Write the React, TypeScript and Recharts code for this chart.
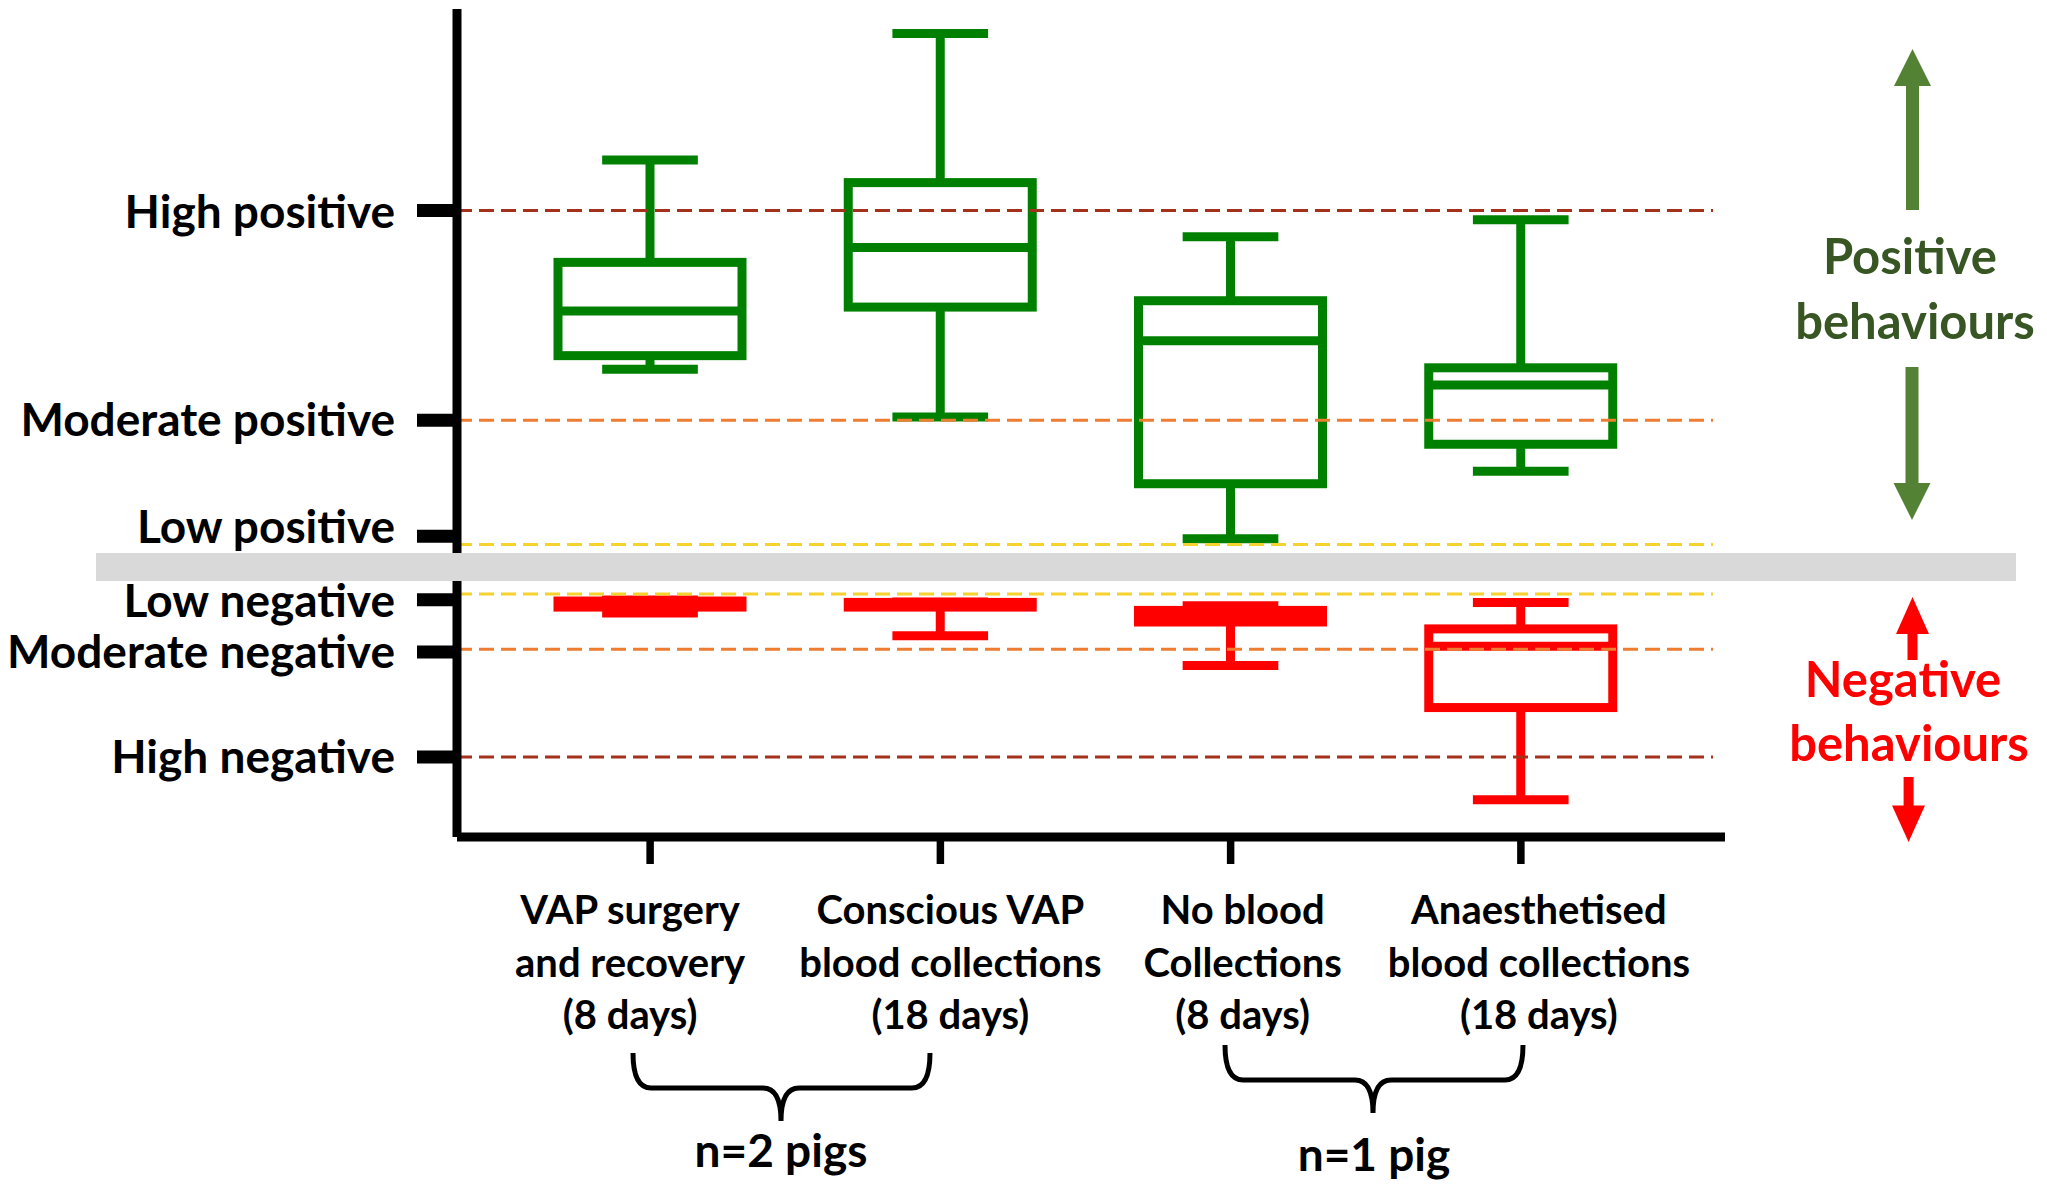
import React from 'react';
import { ComposedChart, Bar, XAxis, YAxis, ReferenceLine } from 'recharts';

document.body.style.margin = '0';

// category labels, one entry per line of text under each tick
const categories = ['VAP surgery', 'Conscious VAP', 'No blood', 'Anaesthetised'];
const categoryLines = [
  ['VAP surgery', 'and recovery', '(8 days)'],
  ['Conscious VAP', 'blood collections', '(18 days)'],
  ['No blood', 'Collections', '(8 days)'],
  ['Anaesthetised', 'blood collections', '(18 days)'],
];

// positive behaviour scores (green boxes)
const posMax = [145.3, 191.1, 117.5, 123.6];
const posQ3 = [108.2, 137.1, 94.3, 70.0];
const posMedian = [90.6, 113.6, 79.8, 63.8];
const posQ1 = [74.4, 92.0, 28.0, 42.3];
const posMin = [69.5, 52.2, 8.1, 32.5];

// negative behaviour scores (red boxes)
const negMax = [-14.1, -14.9, -16.2, -15.0];
const negQ3 = [-14.5, -15.0, -17.9, -24.6];
const negMedian = [-15.6, -15.6, -19.6, -30.9];
const negQ1 = [-16.7, -16.7, -22.1, -53.1];
const negMin = [-18.8, -27.1, -37.9, -86.5];

// y axis levels
const levelLabels = ['High positive', 'Moderate positive', 'Low positive', 'Low negative', 'Moderate negative', 'High negative'];
const levelTicks = [127, 51, 9, -14, -33, -71];
const levelLines = [127, 51, 6, -12, -32, -71];

const lineColors = ['#a3311c', '#ed7d31', '#f5d22e', '#f5d22e', '#ed7d31', '#a3311c'];
const labelShift = [-20, 10, 12, 18];
const levelLabelDy = [18, 16, 7, 17, 16, 16];

const FONT = 'Lato, "Open Sans", sans-serif';

const data = categories.map((name, i) => ({
  name,
  posMax: posMax[i], posQ3: posQ3[i], posMedian: posMedian[i], posQ1: posQ1[i], posMin: posMin[i],
  negMax: negMax[i], negQ3: negQ3[i], negMedian: negMedian[i], negQ1: negQ1[i], negMin: negMin[i],
}));

const BoxShape = (props: any) => {
  const { x, y, width, height, payload } = props;
  const hi = payload.posMax;
  const lo = payload.negMin;
  // linear position inside the bar, which spans negMin..posMax
  const py = (v: number) => y + ((hi - v) / (hi - lo)) * height;
  const cx = x + width / 2;
  const cap = width * 0.52;

  const box = (mx: number, q3: number, md: number, q1: number, mn: number, color: string) => (
    <g stroke={color} strokeWidth={9} fill="none">
      <line x1={cx} x2={cx} y1={py(mx)} y2={py(q3)} />
      <line x1={cx} x2={cx} y1={py(q1)} y2={py(mn)} />
      <line x1={cx - cap / 2} x2={cx + cap / 2} y1={py(mx)} y2={py(mx)} />
      <line x1={cx - cap / 2} x2={cx + cap / 2} y1={py(mn)} y2={py(mn)} />
      <rect x={x} y={py(q3)} width={width} height={Math.max(py(q1) - py(q3), 0.5)} />
      <line x1={x} x2={x + width} y1={py(md)} y2={py(md)} />
    </g>
  );

  return (
    <g>
      {box(payload.posMax, payload.posQ3, payload.posMedian, payload.posQ1, payload.posMin, '#008000')}
      {box(payload.negMax, payload.negQ3, payload.negMedian, payload.negQ1, payload.negMin, '#ff0000')}
    </g>
  );
};

const XTick = (props: any) => {
  const { x, y, payload } = props;
  const i = categories.indexOf(payload.value);
  const lines = categoryLines[i] || [];
  return (
    <text textAnchor="middle" fontFamily={FONT} fontWeight={700} fontSize={40} fill="#000">
      {lines.map((l, k) => (
        <tspan key={k} x={x + labelShift[i]} y={y + 60 + k * 52.5}>{l}</tspan>
      ))}
    </text>
  );
};

const YTick = (props: any) => {
  const { x, y, payload } = props;
  const i = levelTicks.indexOf(payload.value);
  return (
    <text x={x} y={y} dy={levelLabelDy[i]} textAnchor="end" fontFamily={FONT} fontWeight={700} fontSize={46} fill="#000">
      {levelLabels[i]}
    </text>
  );
};

const DashLine = (props: any) => {
  const { x1, x2, y1, y2, stroke } = props;
  return <line x1={x1} x2={x2 - 12} y1={y1} y2={y2} stroke={stroke} strokeWidth={3} strokeDasharray="15 7" />;
};

const Decorations = () => (
  <svg width={2047} height={1191} style={{ position: 'absolute', left: 0, top: 0, pointerEvents: 'none' }}>
    {/* break between positive and negative halves */}
    <rect x={96} y={553} width={1920} height={28} fill="#d9d9d9" />

    {/* side arrows */}
    <g fill="#548235">
      <rect x={1906} y={84} width={13} height={126} />
      <polygon points="1894,86 1931,86 1912.5,49" />
      <rect x={1905.5} y={367} width={13} height={118} />
      <polygon points="1893.5,483 1930.5,483 1912,520" />
    </g>
    <g fill="#ff0000">
      <rect x={1907.5} y={632} width={10} height={28} />
      <polygon points="1896,634 1929,634 1912.5,597" />
      <rect x={1903.6} y={777} width={10} height={30} />
      <polygon points="1892,805.5 1925,805.5 1908.6,842" />
    </g>
    <g fontFamily={FONT} fontWeight={700} fontSize={49} textAnchor="middle">
      <text x={1910} y={274} fill="#375623">Positive</text>
      <text x={1915} y={339} fill="#375623">behaviours</text>
      <text x={1903} y={697} fill="#ff0000">Negative</text>
      <text x={1909} y={761} fill="#ff0000">behaviours</text>
    </g>

    {/* group brackets */}
    <g fill="none" stroke="#000" strokeWidth={5}>
      <path d="M633,1053 Q633,1088 651,1088 L763,1088 Q781,1088 781,1121 Q781,1088 799,1088 L912,1088 Q930,1088 930,1053" />
      <path d="M1225,1045 Q1225,1080 1243,1080 L1355,1080 Q1373,1080 1373,1113 Q1373,1080 1391,1080 L1505,1080 Q1523,1080 1523,1045" />
    </g>
    <g fontFamily={FONT} fontWeight={700} fontSize={46} textAnchor="middle" fill="#000">
      <text x={781} y={1167}>n=2 pigs</text>
      <text x={1374} y={1171}>n=1 pig</text>
    </g>
  </svg>
);

export default function App() {
  return (
    <div style={{ position: 'relative', width: 2047, height: 1191, background: '#fff' }}>
      <ComposedChart width={2047} height={1191} data={data} margin={{ top: 9, right: 322, bottom: 54, left: 0 }}>
        <XAxis
          dataKey="name"
          height={300}
          padding={{ left: 48, right: 59 }}
          axisLine={{ stroke: '#000', strokeWidth: 9 }}
          tickLine={{ stroke: '#000', strokeWidth: 7.5 }}
          tickSize={27}
          tickMargin={0}
          interval={0}
          tick={<XTick />}
        />
        <YAxis
          type="number"
          domain={[-100, 200]}
          allowDataOverflow
          ticks={levelTicks}
          interval={0}
          width={457}
          axisLine={{ stroke: '#000', strokeWidth: 9 }}
          tickLine={{ stroke: '#000', strokeWidth: 13 }}
          tickSize={40}
          tickMargin={22}
          tick={<YTick />}
        />
        {levelLines.map((v, i) => (
          <ReferenceLine key={i} y={v} stroke={lineColors[i]} shape={<DashLine />} />
        ))}
        <Bar
          dataKey={(d: any) => [d.negMin, d.posMax]}
          barSize={184}
          shape={<BoxShape />}
          isAnimationActive={false}
        />
      </ComposedChart>
      <Decorations />
    </div>
  );
}
